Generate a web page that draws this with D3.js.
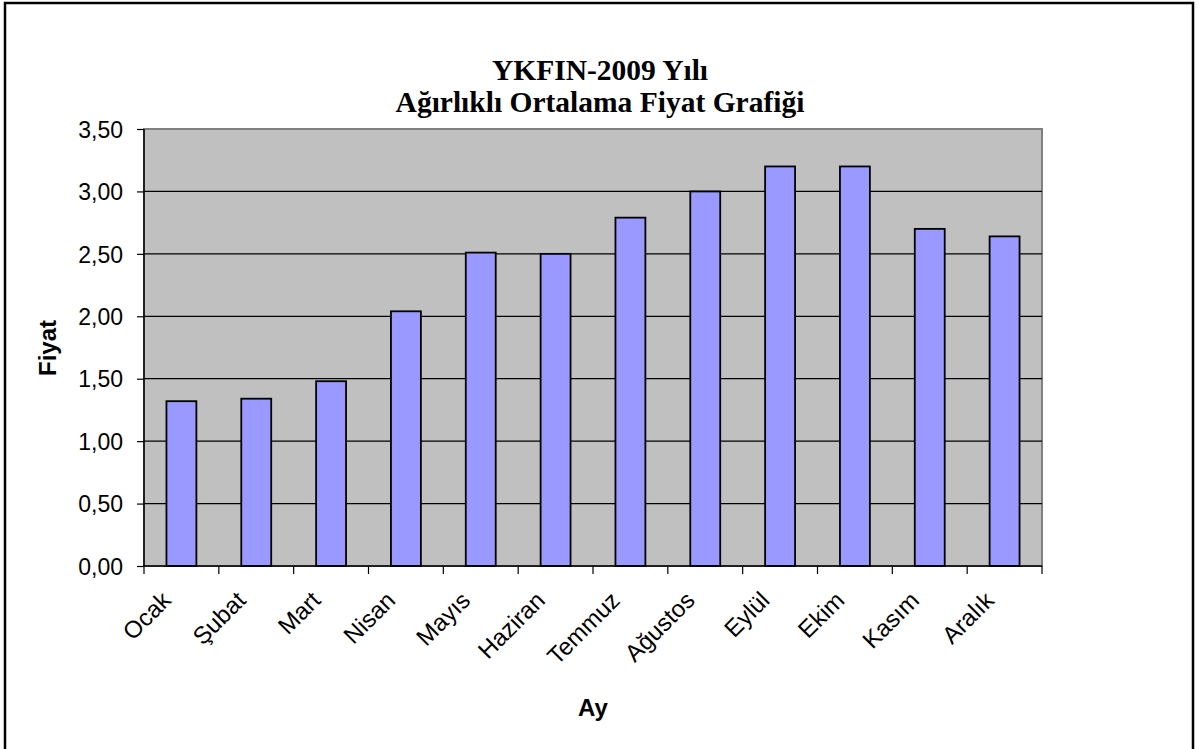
<!DOCTYPE html>
<html>
<head>
<meta charset="utf-8">
<script src="https://cdn.jsdelivr.net/npm/d3@7"></script>
<style>
  body { margin: 0; background: #fff; }
  .tick text { font-family: "Liberation Sans", Arial, sans-serif; }
</style>
</head>
<body>
<svg id="chart" width="1198" height="749"></svg>
<script>
// data
var months = ['Ocak', 'Şubat', 'Mart', 'Nisan', 'Mayıs', 'Haziran', 'Temmuz', 'Ağustos', 'Eylül', 'Ekim', 'Kasım', 'Aralık'];
var prices = [1.32, 1.34, 1.48, 2.04, 2.51, 2.50, 2.79, 3.00, 3.20, 3.20, 2.70, 2.64];
var yTicks = [0, 0.5, 1, 1.5, 2, 2.5, 3, 3.5];
var titleLines = ['YKFIN-2009 Yılı', 'Ağırlıklı Ortalama Fiyat Grafiği'];

var svg = d3.select('#chart');
var plotL = 144, plotR = 1042, plotT = 129, plotB = 566;

// outer frame
svg.append('rect')
  .attr('x', 5).attr('y', 3)
  .attr('width', 1188).attr('height', 760)
  .attr('fill', '#fff')
  .attr('stroke', '#000')
  .attr('stroke-width', 2.5);

var scaleX = d3.scaleBand().domain(months).range([plotL, plotR]).paddingInner(0.6).paddingOuter(0.3);
var scaleY = d3.scaleLinear().domain([0, 3.5]).range([plotB, plotT]);

// plot area
svg.append('rect')
  .attr('x', plotL).attr('y', plotT)
  .attr('width', plotR - plotL).attr('height', plotB - plotT)
  .attr('fill', '#c0c0c0')
  .attr('stroke', '#808080')
  .attr('stroke-width', 2);

// gridlines
svg.append('g').selectAll('line')
  .data(yTicks.slice(1, -1))
  .enter().append('line')
  .attr('x1', plotL).attr('x2', plotR)
  .attr('y1', function(d){ return scaleY(d); })
  .attr('y2', function(d){ return scaleY(d); })
  .attr('stroke', '#000')
  .attr('stroke-width', 1.2);

// bars
svg.append('g').selectAll('rect')
  .data(prices)
  .enter().append('rect')
  .attr('x', function(d, i){ return scaleX(months[i]); })
  .attr('width', scaleX.bandwidth())
  .attr('y', function(d){ return scaleY(d); })
  .attr('height', function(d){ return plotB - scaleY(d); })
  .attr('fill', '#9999ff')
  .attr('stroke', '#000')
  .attr('stroke-width', 1.8);

// y axis
var yAxis = svg.append('g')
  .attr('transform', 'translate(' + plotL + ',0)')
  .call(d3.axisLeft(scaleY).tickValues(yTicks).tickSize(7).tickPadding(14)
    .tickFormat(function(d){ return d3.format('.2f')(d).replace('.', ','); }));
yAxis.select('.domain').attr('stroke', '#000').attr('stroke-width', 1.5).attr('d', 'M0,' + plotT + 'V' + plotB);
yAxis.selectAll('.tick line').attr('stroke', '#000').attr('stroke-width', 1.2);
yAxis.selectAll('.tick text').attr('font-size', 23).attr('fill', '#000').attr('dy', '0.36em');

// x axis: ticks at category boundaries
var step = scaleX.step();
var bounds = d3.range(months.length + 1).map(function(i){ return plotL + i * step; });
var xAxis = svg.append('g');
xAxis.append('line')
  .attr('x1', plotL).attr('x2', plotR)
  .attr('y1', plotB).attr('y2', plotB)
  .attr('stroke', '#000').attr('stroke-width', 1.5);
xAxis.selectAll('line.tk')
  .data(bounds)
  .enter().append('line')
  .attr('class', 'tk')
  .attr('x1', function(d){ return d; }).attr('x2', function(d){ return d; })
  .attr('y1', plotB).attr('y2', plotB + 8)
  .attr('stroke', '#000').attr('stroke-width', 1.2);
xAxis.selectAll('text')
  .data(months)
  .enter().append('text')
  .attr('transform', function(d){
    var cx = scaleX(d) + scaleX.bandwidth() / 2;
    return 'translate(' + (cx - 21) + ',' + (plotB + 24) + ') rotate(-45)';
  })
  .attr('text-anchor', 'end')
  .attr('dy', '0.7em')
  .attr('font-family', '"Liberation Sans", Arial, sans-serif')
  .attr('font-size', 24)
  .text(function(d){ return d; });

// axis titles
svg.append('text')
  .attr('x', 593).attr('y', 716)
  .attr('text-anchor', 'middle')
  .attr('font-family', '"Liberation Sans", Arial, sans-serif')
  .attr('font-weight', 'bold')
  .attr('font-size', 24)
  .text('Ay');

svg.append('text')
  .attr('transform', 'translate(56,348) rotate(-90)')
  .attr('text-anchor', 'middle')
  .attr('font-family', '"Liberation Sans", Arial, sans-serif')
  .attr('font-weight', 'bold')
  .attr('font-size', 24)
  .text('Fiyat');

// title
svg.append('g').selectAll('text')
  .data(titleLines)
  .enter().append('text')
  .attr('x', 600)
  .attr('y', function(d, i){ return 80 + i * 32; })
  .attr('text-anchor', 'middle')
  .attr('font-family', '"Liberation Serif", "Times New Roman", serif')
  .attr('font-weight', 'bold')
  .attr('font-size', 29.5)
  .text(function(d){ return d; });
</script>
</body>
</html>
